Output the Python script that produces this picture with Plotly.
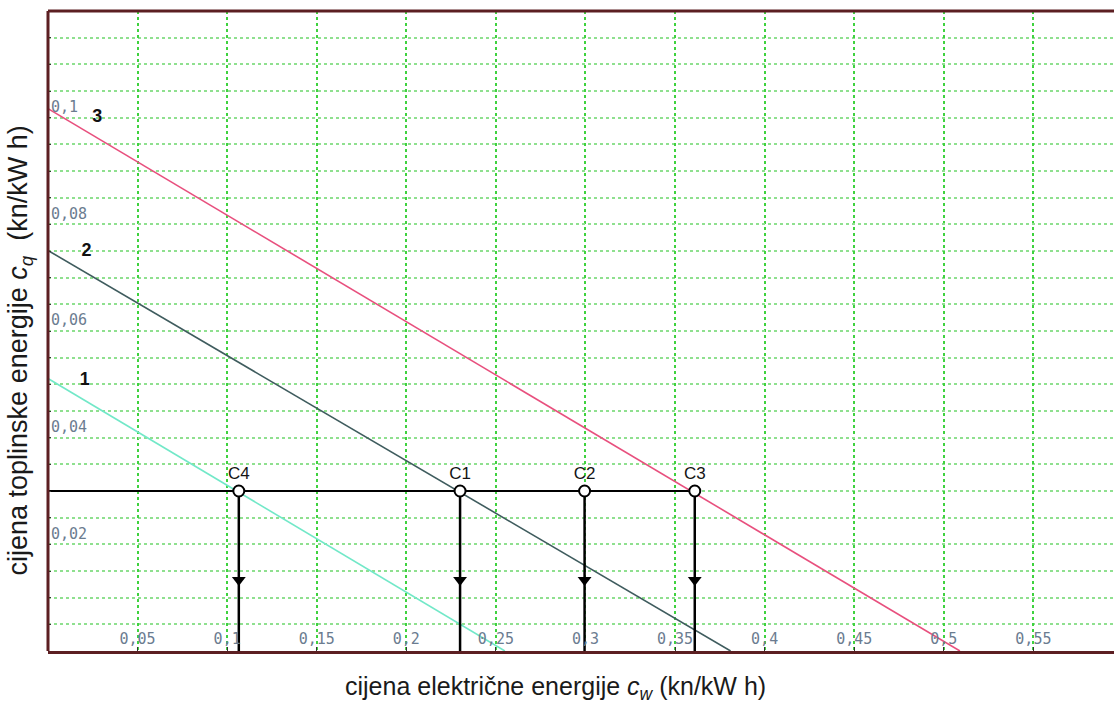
import plotly.graph_objects as go

# ---- data ----
line_names = ["1", "2", "3"]
line_x = [[0.0, 0.255], [0.0, 0.381], [0.0, 0.509]]
line_y = [[0.0511, 0.0], [0.0751, 0.0], [0.1017, 0.0]]
line_colors = ["#72e8c8", "#3f5c5e", "#e8507e"]

label_x = [0.0205, 0.0215, 0.0275]
label_y = [0.0508, 0.0750, 0.1000]

point_names = ["C4", "C1", "C2", "C3"]
point_x = [0.1065, 0.230, 0.2995, 0.361]
point_level = 0.03
arrow_level = 0.0133

x_ticks = [0.05, 0.10, 0.15, 0.20, 0.25, 0.30, 0.35, 0.40, 0.45, 0.50, 0.55]
y_ticks = [0.02, 0.04, 0.06, 0.08, 0.10]

x_title = "cijena električne energije <i>c</i><sub><i>w</i></sub> (kn/kW h)"
y_title = "cijena toplinske energije <i>c</i><sub><i>q</i></sub>\u00a0 (kn/kW h)"

fig = go.Figure()

# horizontal level line through the points
fig.add_trace(go.Scatter(x=[0.0, point_x[-1]], y=[point_level, point_level], mode="lines",
                         line=dict(color="black", width=2), hoverinfo="skip", showlegend=False))

# price lines
for nm, xs, ys, c in zip(line_names, line_x, line_y, line_colors):
    fig.add_trace(go.Scatter(x=xs, y=ys, mode="lines", line=dict(color=c, width=1.6),
                             name=nm, showlegend=False))

# vertical drop lines
for px in point_x:
    fig.add_trace(go.Scatter(x=[px, px], y=[point_level, 0.0], mode="lines",
                             line=dict(color="black", width=2.5), hoverinfo="skip", showlegend=False))

# arrow heads
fig.add_trace(go.Scatter(x=point_x, y=[arrow_level] * len(point_x), mode="markers",
                         marker=dict(symbol="triangle-down", size=12, color="black"),
                         hoverinfo="skip", showlegend=False))

# points with labels
fig.add_trace(go.Scatter(x=point_x, y=[point_level] * len(point_x), mode="markers+text",
                         text=point_names, textposition="top center",
                         textfont=dict(family="Liberation Sans", size=17, color="#141414"),
                         marker=dict(symbol="circle", size=11, color="white",
                                     line=dict(color="black", width=2)),
                         showlegend=False))

# line labels
fig.add_trace(go.Scatter(x=label_x, y=label_y, mode="text",
                         text=["<b>%s</b>" % n for n in line_names], textposition="middle center",
                         textfont=dict(family="Liberation Sans", size=18, color="#111111"),
                         hoverinfo="skip", showlegend=False))

tickfont = dict(family="DejaVu Sans Mono", size=15, color="#6b7c90")
border = "#5c1f22"

fig.update_layout(
    width=1114, height=703,
    margin=dict(l=48, r=0, t=11, b=52, autoexpand=False),
    paper_bgcolor="white", plot_bgcolor="white",
    separators=", ",
    font=dict(family="Liberation Sans"),
    shapes=[
        dict(type="line", xref="paper", yref="paper", x0=0, x1=1, y0=1, y1=1,
             line=dict(color=border, width=3)),
        dict(type="line", xref="paper", yref="paper", x0=0, x1=0, y0=0, y1=1,
             line=dict(color=border, width=3)),
    ],
    annotations=[
        dict(text=x_title, xref="paper", yref="paper", x=0.476, y=-0.058,
             xanchor="center", yanchor="middle", showarrow=False,
             font=dict(family="Liberation Sans", size=25, color="#1a1a1a")),
        dict(text=y_title, xref="paper", yref="paper", x=-0.026, y=0.47, textangle=-90,
             xanchor="center", yanchor="middle", showarrow=False,
             font=dict(family="Liberation Sans", size=27, color="#1a1a1a")),
    ],
    xaxis=dict(
        range=[0.0, 0.595], tickvals=x_ticks, automargin=False,
        ticklabelposition="inside", tickfont=tickfont,
        ticks="inside", ticklen=4, tickcolor="#333333",
        showgrid=True, gridcolor="#3fd23f", gridwidth=1.6, griddash="dot",
        showline=True, linecolor=border, linewidth=3, mirror=False,
        zeroline=False,
    ),
    yaxis=dict(
        range=[0.0, 0.12], tickvals=y_ticks, automargin=False,
        ticklabelposition="inside top", tickfont=tickfont,
        ticks="inside", ticklen=3, tickcolor="#333333",
        showgrid=True, gridcolor="#8fe08f", gridwidth=1.6, griddash="dot",
        minor=dict(dtick=0.005, tick0=0, showgrid=True, gridcolor="#8fe08f", gridwidth=1.6,
                   griddash="dot", ticks="inside", ticklen=3, tickcolor="#333333"),
        showline=False,
        zeroline=False,
    ),
)

fig.write_html("out.html", config={"displayModeBar": False},
               post_script="document.body.style.margin='0';")
